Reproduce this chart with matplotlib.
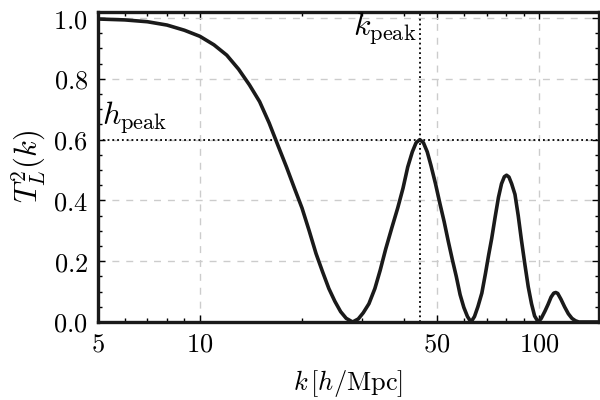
import matplotlib
matplotlib.use("Agg")
import matplotlib.pyplot as plt
from matplotlib.ticker import FixedLocator, FixedFormatter, MultipleLocator, LogLocator, NullFormatter

plt.rcParams["mathtext.fontset"] = "cm"
plt.rcParams["font.family"] = "serif"
plt.rcParams["font.serif"] = ["DejaVu Serif"]

# values
k = [5.0, 6.0, 7.0, 8.0, 9.0, 10.0, 11.0, 12.0, 13.0, 14.0, 15.0, 16.0, 17.0,
     18.0, 19.0, 20.0, 21.0, 22.0, 23.0, 24.0, 25.0, 26.0, 27.0, 28.2, 29.3,
     30.3, 31.5, 32.8, 34.0, 35.3, 36.8, 38.3, 39.7, 41.0, 42.3, 43.4, 44.5,
     45.6, 46.8, 48.0, 49.5, 51.0, 52.5, 54.0, 55.5, 57.0, 58.5, 60.0, 61.5,
     63.0, 64.5, 66.0, 67.8, 69.5, 71.0, 72.5, 74.2, 75.9, 77.5, 79.0, 80.2,
     81.5, 83.0, 84.9, 86.8, 88.7, 90.8, 92.9, 95.0, 97.0, 99.4, 101.5, 104.0,
     106.3, 108.5, 110.5, 112.0, 113.5, 116.0, 118.9, 122.0, 125.0, 128.0,
     131.0, 150.0]
T2 = [0.997, 0.994, 0.988, 0.977, 0.960, 0.940, 0.912, 0.878, 0.832, 0.780,
      0.725, 0.655, 0.580, 0.510, 0.440, 0.375, 0.300, 0.225, 0.165, 0.110,
      0.068, 0.034, 0.012, 0.0, 0.010, 0.030, 0.060, 0.110, 0.170, 0.240,
      0.310, 0.375, 0.440, 0.510, 0.560, 0.590, 0.600, 0.590, 0.560, 0.515,
      0.455, 0.390, 0.330, 0.265, 0.205, 0.150, 0.090, 0.048, 0.018, 0.0,
      0.018, 0.050, 0.095, 0.160, 0.220, 0.275, 0.345, 0.410, 0.455, 0.478,
      0.483, 0.477, 0.455, 0.420, 0.350, 0.270, 0.190, 0.116, 0.060, 0.020,
      0.0, 0.012, 0.035, 0.058, 0.082, 0.095, 0.097, 0.094, 0.075, 0.050,
      0.027, 0.012, 0.004, 0.0, 0.0]

k_peak = 44.5
h_peak = 0.6
xticks = [5, 10, 50, 100]
yticks = [0.0, 0.2, 0.4, 0.6, 0.8, 1.0]

fig = plt.figure(figsize=(6, 4), dpi=100)
ax = fig.add_axes([0.163, 0.195, 0.835, 0.775])

ax.set_xscale("log")
ax.set_xlim(5, 150)
ax.set_ylim(0, 1.02)

ax.plot(k, T2, "-", color="#1a1a1a", lw=2.6, zorder=3, solid_joinstyle="round")
ax.axhline(h_peak, color="k", ls=":", lw=1.3, zorder=2)
ax.axvline(k_peak, color="k", ls=":", lw=1.3, zorder=2)

ax.text(5.15, 0.612, r"$h_{\rm peak}$", fontsize=23, ha="left", va="bottom")
ax.text(43.6, 0.905, r"$k_{\rm peak}$", fontsize=23, ha="right", va="bottom")

ax.xaxis.set_major_locator(FixedLocator(xticks))
ax.xaxis.set_major_formatter(FixedFormatter([r"$%d$" % t for t in xticks]))
ax.xaxis.set_minor_locator(LogLocator(base=10, subs=range(2, 10)))
ax.xaxis.set_minor_formatter(NullFormatter())
ax.yaxis.set_major_locator(FixedLocator(yticks))
ax.yaxis.set_major_formatter(FixedFormatter([r"$%.1f$" % t for t in yticks]))
ax.yaxis.set_minor_locator(MultipleLocator(0.05))

ax.tick_params(which="both", direction="in", top=True, right=True, labelsize=19, width=1)
ax.tick_params(which="major", length=5, pad=7)
ax.tick_params(which="minor", length=3)

ax.grid(True, which="major", color="#cccccc", ls=(0, (5, 5)), lw=1)
for s in ax.spines.values():
    s.set_linewidth(2.4)
    s.set_color("#1a1a1a")

ax.set_xlabel(r"$k\,[h/\mathrm{Mpc}]$", fontsize=19, labelpad=8)
ax.set_ylabel(r"$T_L^2(k)$", fontsize=22, labelpad=4)

fig.savefig("out.png", dpi=100)
